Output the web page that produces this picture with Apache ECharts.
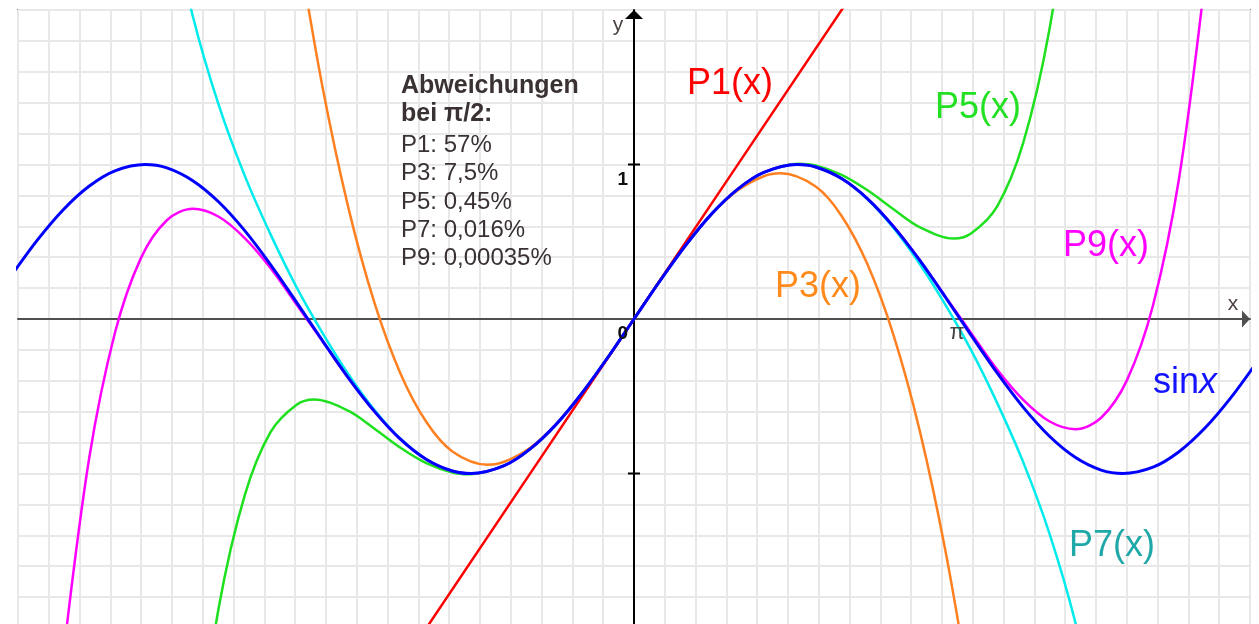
<!DOCTYPE html>
<html>
<head>
<meta charset="utf-8">
<title>sin x und Taylorpolynome</title>
<script src="https://cdn.jsdelivr.net/npm/echarts@6/dist/echarts.min.js"></script>
<style>
  html, body { margin: 0; padding: 0; background: #fff; }
  #main { width: 1259px; height: 624px; }
</style>
</head>
<body>
<div id="main"></div>
<script>
const sinX = [-6, -5.75, -5.5, -5.25, -5, -4.71, -4.5, -4.25, -4, -3.75, -3.5, -3.25, -3, -2.75, -2.5, -2.25, -2, -1.75, -1.57, -1.25, -1, -0.75, -0.5, -0.25,
  0, 0.25, 0.5, 0.75, 1, 1.25, 1.57, 1.75, 2, 2.25, 2.5, 2.75, 3, 3.25, 3.5, 3.75, 4, 4.25, 4.5, 4.71, 5, 5.25, 5.5, 5.75, 6];
const sinY = [0.279, 0.509, 0.706, 0.859, 0.959, 1.0, 0.978, 0.895, 0.757, 0.572, 0.351, 0.108, -0.141, -0.382, -0.598, -0.778, -0.909, -0.984, -1.0, -0.949, -0.841, -0.682, -0.479, -0.247,
  0, 0.247, 0.479, 0.682, 0.841, 0.949, 1.0, 0.984, 0.909, 0.778, 0.598, 0.382, 0.141, -0.108, -0.351, -0.572, -0.757, -0.895, -0.978, -1.0, -0.959, -0.859, -0.706, -0.509, -0.279];

const p1X = [-2.25, 0, 2.25];
const p1Y = [-2.25, 0, 2.25];

const p3X = [-3.25, -3, -2.75, -2.5, -2.25, -2, -1.75, -1.41, -1.25, -1, -0.75, -0.5, -0.25,
  0, 0.25, 0.5, 0.75, 1, 1.25, 1.41, 1.75, 2, 2.25, 2.5, 2.75, 3, 3.25];
const p3Y = [2.471, 1.5, 0.716, 0.104, -0.352, -0.667, -0.857, -0.943, -0.924, -0.833, -0.68, -0.479, -0.247,
  0, 0.247, 0.479, 0.68, 0.833, 0.924, 0.943, 0.857, 0.667, 0.352, -0.104, -0.716, -1.5, -2.471];

const p5X = [-4.25, -4, -3.75, -3.5, -3.25, -3.08, -2.75, -2.5, -2.25, -2, -1.75, -1.59, -1.25, -1, -0.75, -0.5, -0.25,
  0, 0.25, 0.5, 0.75, 1, 1.25, 1.59, 1.75, 2, 2.25, 2.5, 2.75, 3.08, 3.25, 3.5, 3.75, 4, 4.25];
const p5Y = [-3.009, -1.867, -1.141, -0.731, -0.555, -0.521, -0.595, -0.71, -0.833, -0.933, -0.994, -1.005, -0.949, -0.842, -0.682, -0.479, -0.247,
  0, 0.247, 0.479, 0.682, 0.842, 0.949, 1.005, 0.994, 0.933, 0.833, 0.71, 0.595, 0.521, 0.555, 0.731, 1.141, 1.867, 3.009];

const p7X = [-4.5, -4.25, -4, -3.75, -3.5, -3.25, -3, -2.75, -2.5, -2.25, -2, -1.75, -1.57, -1.25, -1, -0.75, -0.5, -0.25,
  0, 0.25, 0.5, 0.75, 1, 1.25, 1.57, 1.75, 2, 2.25, 2.5, 2.75, 3, 3.25, 3.5, 3.75, 4, 4.25, 4.5];
const p7Y = [2.724, 1.96, 1.384, 0.928, 0.546, 0.205, -0.091, -0.359, -0.589, -0.775, -0.908, -0.984, -1.0, -0.948, -0.841, -0.682, -0.479, -0.247,
  0, 0.247, 0.479, 0.682, 0.841, 0.948, 1.0, 0.984, 0.908, 0.775, 0.589, 0.359, 0.091, -0.205, -0.546, -0.928, -1.384, -1.96, -2.724];

const p9X = [-5.5, -5.25, -5, -4.75, -4.5, -4.25, -4, -3.75, -3.5, -3.25, -3, -2.75, -2.5, -2.25, -2, -1.75, -1.57, -1.25, -1, -0.75, -0.5, -0.25,
  0, 0.25, 0.5, 0.75, 1, 1.25, 1.57, 1.75, 2, 2.25, 2.5, 2.75, 3, 3.25, 3.5, 3.75, 4, 4.25, 4.5, 4.75, 5, 5.25, 5.5];
const p9Y = [-2.195, -0.908, -0.089, 0.394, 0.639, 0.713, 0.662, 0.524, 0.329, 0.093, -0.145, -0.384, -0.6, -0.779, -0.909, -0.984, -1.0, -0.949, -0.841, -0.682, -0.479, -0.247,
  0, 0.247, 0.479, 0.682, 0.841, 0.949, 1.0, 0.984, 0.909, 0.779, 0.6, 0.384, 0.145, -0.093, -0.329, -0.524, -0.662, -0.713, -0.639, -0.394, 0.089, 0.908, 2.195];

// Achsenbeschriftungen
const yTickValues = [-1, 1];
const yLabelValues = [0, 1];
const xLabelValues = [3.1416];
const xLabelTexts = ['\u03c0'];
const noteLines = ['Abweichungen', 'bei \u03c0/2:', 'P1: 57%', 'P3: 7,5%', 'P5: 0,45%', 'P7: 0,016%', 'P9: 0,00035%'];

const FONT = '"Liberation Sans", Arial, sans-serif';

function curve(name, xArr, yArr, color, width) {
  return {
    name: name,
    type: 'line',
    data: xArr.map((x, i) => [x, yArr[i]]),
    showSymbol: false,
    smooth: 0.33,
    lineStyle: { color: color, width: width },
    emphasis: { disabled: true }
  };
}

const chart = echarts.init(document.getElementById('main'));

const option = {
  animation: false,
  backgroundColor: '#fff',
  grid: {
    left: 18, right: 9, top: 10, height: 618,
    outerBoundsMode: 'none',
    containLabel: false,
    show: true, borderColor: '#8a8a8a', borderWidth: 2, backgroundColor: '#fff'
  },
  xAxis: {
    type: 'value',
    min: -5.934, max: 5.934, interval: 0.2967,
    axisLine: {
      onZero: true,
      lineStyle: { color: '#505050', width: 2 },
      symbol: ['none', 'triangle'], symbolSize: [17, 8], symbolOffset: [0, -4]
    },
    axisTick: { show: false },
    axisLabel: { show: false },
    splitLine: { show: true, lineStyle: { color: '#e8e8e8', width: 2 } }
  },
  yAxis: {
    type: 'value',
    min: -2, max: 2, interval: 0.2,
    axisLine: {
      onZero: true,
      lineStyle: { color: '#000', width: 2 },
      symbol: ['none', 'triangle'], symbolSize: [18, 9], symbolOffset: [0, -4.5]
    },
    axisTick: { show: false },
    axisLabel: { show: false },
    splitLine: { show: true, lineStyle: { color: '#e8e8e8', width: 2 } }
  },
  series: [
    curve('P3', p3X, p3Y, '#ff8020', 2.5),
    curve('P5', p5X, p5Y, '#1ee01e', 2.5),
    curve('P7', p7X, p7Y, '#00ecec', 2.5),
    curve('P9', p9X, p9Y, '#ff00ff', 2.5),
    curve('P1', p1X, p1Y, '#ff0000', 2.5),
    curve('sin', sinX, sinY, '#0000ff', 3)
  ]
};

chart.setOption(option);

// Texte und Achsenstriche (Lage der Striche aus den Skalen)
const graphics = [];
const noteY = [86, 114, 145, 173, 202, 230, 258];
noteLines.forEach((t, i) => {
  graphics.push({
    type: 'text', x: 401, y: noteY[i],
    style: {
      text: t, fill: '#3a3232', verticalAlign: 'middle',
      font: (i < 2 ? 'bold 25px ' : '24px ') + FONT
    }
  });
});

const curveLabels = [
  { text: 'P1(x)', x: 687, y: 84, color: '#ff0000' },
  { text: 'P5(x)', x: 935, y: 108, color: '#22e022' },
  { text: 'P9(x)', x: 1063, y: 246, color: '#ff00ff' },
  { text: 'P3(x)', x: 775, y: 287, color: '#ff8a1c' },
  { text: 'P7(x)', x: 1069, y: 546, color: '#20a8a8' }
];
curveLabels.forEach(l => {
  graphics.push({
    type: 'text', x: l.x, y: l.y,
    style: { text: l.text, fill: l.color, verticalAlign: 'middle', font: '36px ' + FONT }
  });
});
graphics.push({
  type: 'text', x: 1153, y: 383,
  style: {
    text: 'sin{i|x}', fill: '#1414ff', verticalAlign: 'middle', font: '36px ' + FONT,
    rich: { i: { fontStyle: 'italic', fontSize: 36, fontFamily: FONT, fill: '#1414ff' } }
  }
});
graphics.push({
  type: 'text', x: 1233, y: 304,
  style: { text: 'x', fill: '#4d4242', align: 'center', verticalAlign: 'middle', font: '21px ' + FONT }
});
graphics.push({
  type: 'text', x: 618, y: 25,
  style: { text: 'y', fill: '#4d4242', align: 'center', verticalAlign: 'middle', font: '21px ' + FONT }
});

yTickValues.forEach(v => {
  const p = chart.convertToPixel({ gridIndex: 0 }, [0, v]);
  graphics.push({
    type: 'line', z: 10,
    shape: { x1: p[0] - 6, y1: p[1], x2: p[0] + 6, y2: p[1] },
    style: { stroke: '#000', lineWidth: 2 }
  });
});
yLabelValues.forEach(v => {
  const p = chart.convertToPixel({ gridIndex: 0 }, [0, v]);
  graphics.push({
    type: 'text', z: 10, x: p[0] - 6, y: p[1] + 15,
    style: { text: String(v), fill: '#111', align: 'right', verticalAlign: 'middle', font: 'bold 19px ' + FONT }
  });
});
xLabelValues.forEach((v, i) => {
  const p = chart.convertToPixel({ gridIndex: 0 }, [v, 0]);
  graphics.push({
    type: 'text', z: 10, x: p[0] - 3, y: p[1] + 14,
    style: { text: xLabelTexts[i], fill: '#444', align: 'center', verticalAlign: 'middle', font: '22px ' + FONT }
  });
});
chart.setOption({ graphic: graphics });
</script>
</body>
</html>
